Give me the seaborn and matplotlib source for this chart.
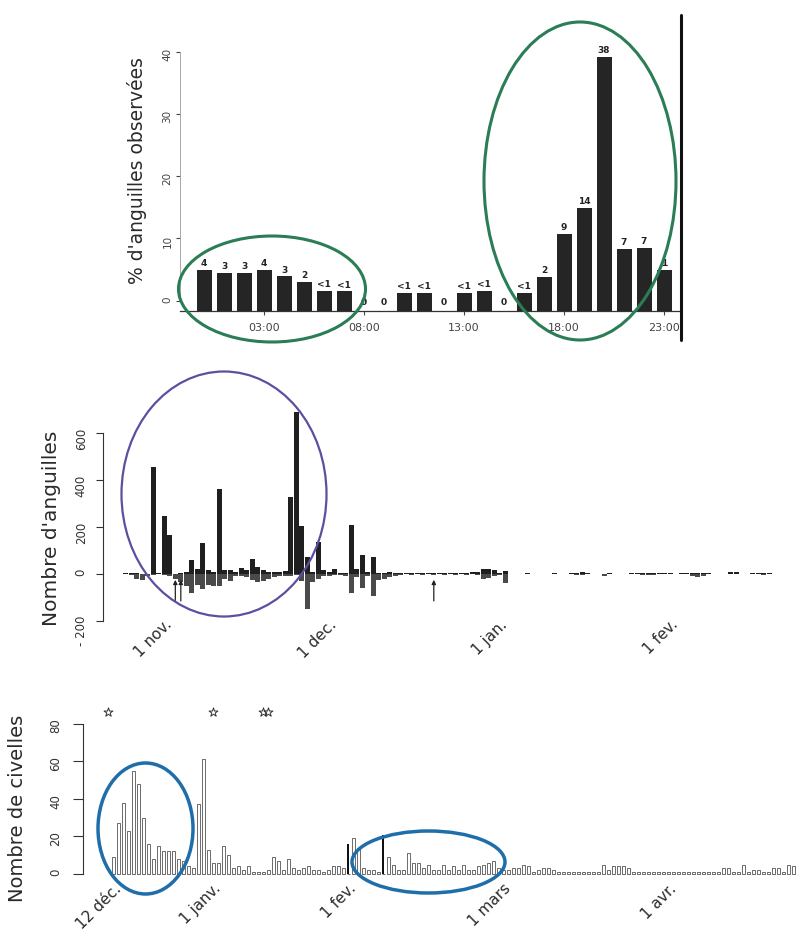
import matplotlib
matplotlib.use("Agg")
import pandas as pd
import matplotlib.pyplot as plt
import seaborn as sns
from matplotlib.patches import Ellipse
from matplotlib.lines import Line2D

# ── DONNÉES ───────────────────────────────────────────────────────────────────
# Panneau 1 : % d'anguilles observées par heure (0 = 00:00)
HEURES = list(range(24))
POURCENTAGES = [4.9, 4.4, 4.5, 4.9, 3.9, 3.0, 1.6, 1.5, 0, 0, 1.3, 1.3,
                0, 1.3, 1.6, 0, 1.3, 3.8, 10.7, 14.9, 39.1, 8.3, 8.5, 4.9]
ETIQUETTES = ["4", "3", "3", "4", "3", "2", "<1", "<1", "0", "0", "<1", "<1",
              "0", "<1", "<1", "0", "<1", "2", "9", "14", "38", "7", "7", "1"]
HEURES_TICKS = [3, 8, 13, 18, 23]
HEURES_LABELS = ["03:00", "08:00", "13:00", "18:00", "23:00"]

# Panneau 2 : nombre d'anguilles par jour (jour 0 = 30 oct.)
JOURS_ANG = list(range(-5, 113))
MONTEE = [3, 2, 2, 0, 0, 455, 5, 247, 166, 0,
          5, 10, 61, 20, 132, 15, 10, 362, 15, 15,
          10, 25, 15, 64, 30, 15, 10, 8, 10, 12,
          326, 688, 205, 71, 10, 134, 15, 8, 20, 5,
          5, 210, 20, 82, 10, 71, 3, 5, 8, 5,
          4, 3, 4, 3, 4, 3, 4, 3, 4, 3,
          4, 3, 5, 8, 10, 20, 22, 18, 5, 12,
          0, 0, 0, 3, 0, 0, 0, 0, 5, 0,
          0, 5, 3, 8, 4, 0, 0, 0, 3, 0,
          0, 0, 2, 2, 4, 4, 3, 2, 2, 2,
          0, 2, 2, 5, 3, 6, 2, 0, 0, 0,
          8, 8, 0, 0, 2, 3, 3, 3]
DEVALAISON = [0, 5, 20, 25, 10, 5, 0, 5, 10, 20,
              35, 50, 83, 45, 62, 45, 50, 50, 20, 30,
              10, 8, 15, 25, 35, 30, 20, 15, 10, 8,
              10, 5, 30, 149, 36, 20, 10, 8, 5, 5,
              10, 80, 15, 60, 10, 93, 25, 20, 15, 10,
              3, 2, 3, 2, 3, 2, 3, 2, 3, 2,
              3, 2, 3, 2, 3, 20, 18, 10, 3, 40,
              0, 0, 0, 0, 0, 0, 0, 0, 0, 0,
              0, 0, 3, 5, 0, 0, 0, 10, 0, 0,
              0, 0, 0, 0, 3, 5, 3, 0, 0, 0,
              0, 0, 0, 8, 15, 10, 0, 0, 0, 0,
              0, 0, 0, 0, 0, 0, 3, 0]
FLECHES_ANG = [4, 5, 51]
MOIS_ANG_JOURS = [2, 32, 63, 94]
MOIS_ANG_LABELS = ["1 nov.", "1 dec.", "1 jan.", "1 fev."]

# Panneau 3 : nombre de civelles par jour (jour 0 = 12 déc.)
JOURS_CIV = list(range(137))
CIVELLES = [9, 27, 38, 23, 55, 48, 30, 16, 8, 15,
            12, 12, 12, 8, 7, 4, 3, 37, 61, 13,
            6, 6, 15, 10, 3, 4, 2, 4, 1, 1,
            1, 2, 9, 7, 2, 8, 3, 2, 3, 4,
            2, 2, 1, 2, 4, 4, 3, 0, 19, 14,
            3, 2, 2, 1, 0, 9, 5, 2, 2, 11,
            6, 6, 3, 5, 2, 2, 5, 2, 4, 2,
            5, 2, 2, 4, 5, 6, 7, 3, 2, 2,
            3, 3, 5, 4, 1, 2, 3, 3, 2, 1,
            1, 1, 1, 1, 1, 1, 1, 1, 5, 2,
            4, 4, 4, 3, 1, 1, 1, 1, 1, 1,
            1, 1, 1, 1, 1, 1, 1, 1, 1, 1,
            1, 1, 3, 3, 1, 1, 5, 1, 2, 2,
            1, 1, 3, 3, 1, 5, 4]
JOURS_NOIRS = [47, 54]
CIVELLES_NOIRES = [16, 21]
JOURS_ETOILES = [-1, 20, 30, 31]
MOIS_CIV_JOURS = [0, 20, 47, 78, 111]
MOIS_CIV_LABELS = ["12 déc.", "1 janv.", "1 fev.", "1 mars", "1 avr."]

# ── MISE EN PAGE ──────────────────────────────────────────────────────────────
W, H = 797, 930
ENCRE = "#2a2a2a"


def zone(gauche, haut, droite, bas):
    """Rectangle d'axes donné en pixels -> fractions de figure."""
    return [gauche / W, 1 - bas / H, (droite - gauche) / W, (bas - haut) / H]


def ellipse(fig, cx, cy, larg, haut, couleur, lw):
    fig.add_artist(Ellipse((cx / W, 1 - cy / H), larg / W, haut / H,
                           transform=fig.transFigure, fill=False,
                           edgecolor=couleur, lw=lw))


sns.set_style("ticks")
plt.rcParams["font.family"] = ["DejaVu Sans"]
plt.rcParams["text.color"] = ENCRE

fig = plt.figure(figsize=(W / 100, H / 100), dpi=100)

# ── 1. % d'anguilles par heure ────────────────────────────────────────────────
ax1 = fig.add_axes(zone(180, 20.6, 681, 310.7))
df_h = pd.DataFrame({"heure": HEURES, "pct": POURCENTAGES})
sns.barplot(data=df_h, x="heure", y="pct", native_scale=True, width=0.75,
            color="#252525", saturation=1, errorbar=None, linewidth=0, ax=ax1)
BASE = -1.6  # les barres descendent jusqu'à la ligne d'axe, sous le zéro
for p in ax1.patches:
    if p.get_height() > 0:
        p.set_height(p.get_height() - BASE)
        p.set_y(BASE)
for h, v, lab in zip(HEURES, POURCENTAGES, ETIQUETTES):
    y = v + 0.3 if v > 0 else BASE + 0.6
    ax1.text(h, y, lab, ha="center", va="bottom", fontsize=6.5,
             fontweight="bold", color="#222")
ax1.set_xlim(-1.2, 23.85)
ax1.set_ylim(BASE, 45)
ax1.set_xticks(HEURES_TICKS, HEURES_LABELS)
ax1.set_yticks([0, 10, 20, 30, 40])
ax1.tick_params(axis="y", labelrotation=90, labelsize=7.5, length=3, pad=2.5,
                colors="#444")
ax1.tick_params(axis="x", labelsize=8, length=3, pad=6, colors="#444")
sns.despine(ax=ax1)
ax1.spines["left"].set_bounds(0, 40)
ax1.spines["left"].set_color("#999")
ax1.spines["left"].set_linewidth(0.6)
ax1.spines["bottom"].set_color("#333")
ax1.spines["bottom"].set_linewidth(0.9)
ax1.set_xlabel("")
ax1.set_ylabel("")
fig.text(137 / W, 1 - 171 / H, "% d'anguilles observées", rotation=90,
         ha="center", va="center", fontsize=13.5)
fig.add_artist(Line2D([681 / W, 681 / W], [1 - 15 / H, 1 - 340 / H],
                      color="#111", lw=2.2))

# ── 2. Nombre d'anguilles par jour ────────────────────────────────────────────
ax2 = fig.add_axes(zone(103, 405, 797, 628))
df_a = pd.DataFrame({"jour": JOURS_ANG, "montee": MONTEE,
                     "devalaison": [-v for v in DEVALAISON]})
sns.barplot(data=df_a, x="jour", y="montee", native_scale=True, width=0.85,
            color="#1f1f1f", saturation=1, errorbar=None, linewidth=0, ax=ax2)
sns.barplot(data=df_a, x="jour", y="devalaison", native_scale=True, width=0.85,
            color="#4a4a4a", saturation=1, errorbar=None, linewidth=0, ax=ax2)
for j in FLECHES_ANG:
    ax2.annotate("", xy=(j, -25), xytext=(j, -115),
                 arrowprops=dict(arrowstyle="-|>", color="#222", lw=0.9,
                                 mutation_scale=6, shrinkA=0, shrinkB=0))
ax2.set_xlim(-9.15, 117.04)
ax2.set_ylim(-230, 719)
ax2.set_xticks([])
for j, lab in zip(MOIS_ANG_JOURS, MOIS_ANG_LABELS):
    ax2.text(j, -183, lab, rotation=45, rotation_mode="anchor", ha="right",
             va="top", fontsize=11)
ax2.set_yticks([-200, 0, 200, 400, 600], ["- 200", "0", "200", "400", "600"])
ax2.tick_params(axis="y", labelrotation=90, labelsize=8.5, length=5, pad=6,
                colors="#333")
sns.despine(ax=ax2, bottom=True)
ax2.spines["left"].set_bounds(-200, 600)
ax2.spines["left"].set_color("#333")
ax2.set_xlabel("")
ax2.set_ylabel("")
fig.text(52 / W, 1 - 528 / H, "Nombre d'anguilles", rotation=90,
         ha="center", va="center", fontsize=14.5)

# ── 3. Nombre de civelles par jour ────────────────────────────────────────────
ax3 = fig.add_axes(zone(83, 702, 797, 878))
df_c = pd.DataFrame({"jour": JOURS_CIV, "civelles": CIVELLES})
sns.barplot(data=df_c, x="jour", y="civelles", native_scale=True, width=0.7,
            color="white", edgecolor="#444444", linewidth=0.55, saturation=1,
            errorbar=None, ax=ax3)
ax3.bar(JOURS_NOIRS, CIVELLES_NOIRES, width=0.35, color="#111", linewidth=0)
ax3.scatter(JOURS_ETOILES, [86] * len(JOURS_ETOILES), marker="*", s=45,
            facecolor="white", edgecolor="#333", linewidth=0.7, zorder=3,
            clip_on=False)
ax3.set_xlim(-6.06, 136.74)
ax3.set_ylim(-2.13, 91.5)
ax3.set_xticks([])
for j, lab in zip(MOIS_CIV_JOURS, MOIS_CIV_LABELS):
    ax3.text(j, -3.7, lab, rotation=45, rotation_mode="anchor", ha="right",
             va="top", fontsize=11)
ax3.set_yticks([0, 20, 40, 60, 80])
ax3.tick_params(axis="y", labelrotation=90, labelsize=8.5, length=7, pad=8,
                colors="#333")
sns.despine(ax=ax3, bottom=True)
ax3.spines["left"].set_bounds(0, 80)
ax3.spines["left"].set_color("#333")
ax3.set_xlabel("")
ax3.set_ylabel("")
fig.text(18 / W, 1 - 808 / H, "Nombre de civelles", rotation=90,
         ha="center", va="center", fontsize=14)

# ── ELLIPSES DE MISE EN ÉVIDENCE ──────────────────────────────────────────────
ellipse(fig, 272, 289, 187, 106, "#2a7d55", 2.2)
ellipse(fig, 580, 181, 192, 318, "#2a7d55", 2.2)
ellipse(fig, 224, 494, 205, 245, "#5a50a0", 1.6)
ellipse(fig, 145.5, 828.5, 95, 131, "#1f6eaa", 2.5)
ellipse(fig, 428.5, 862, 153, 62, "#1f6eaa", 2.5)

fig.savefig("out.png", dpi=100)
plt.close(fig)
